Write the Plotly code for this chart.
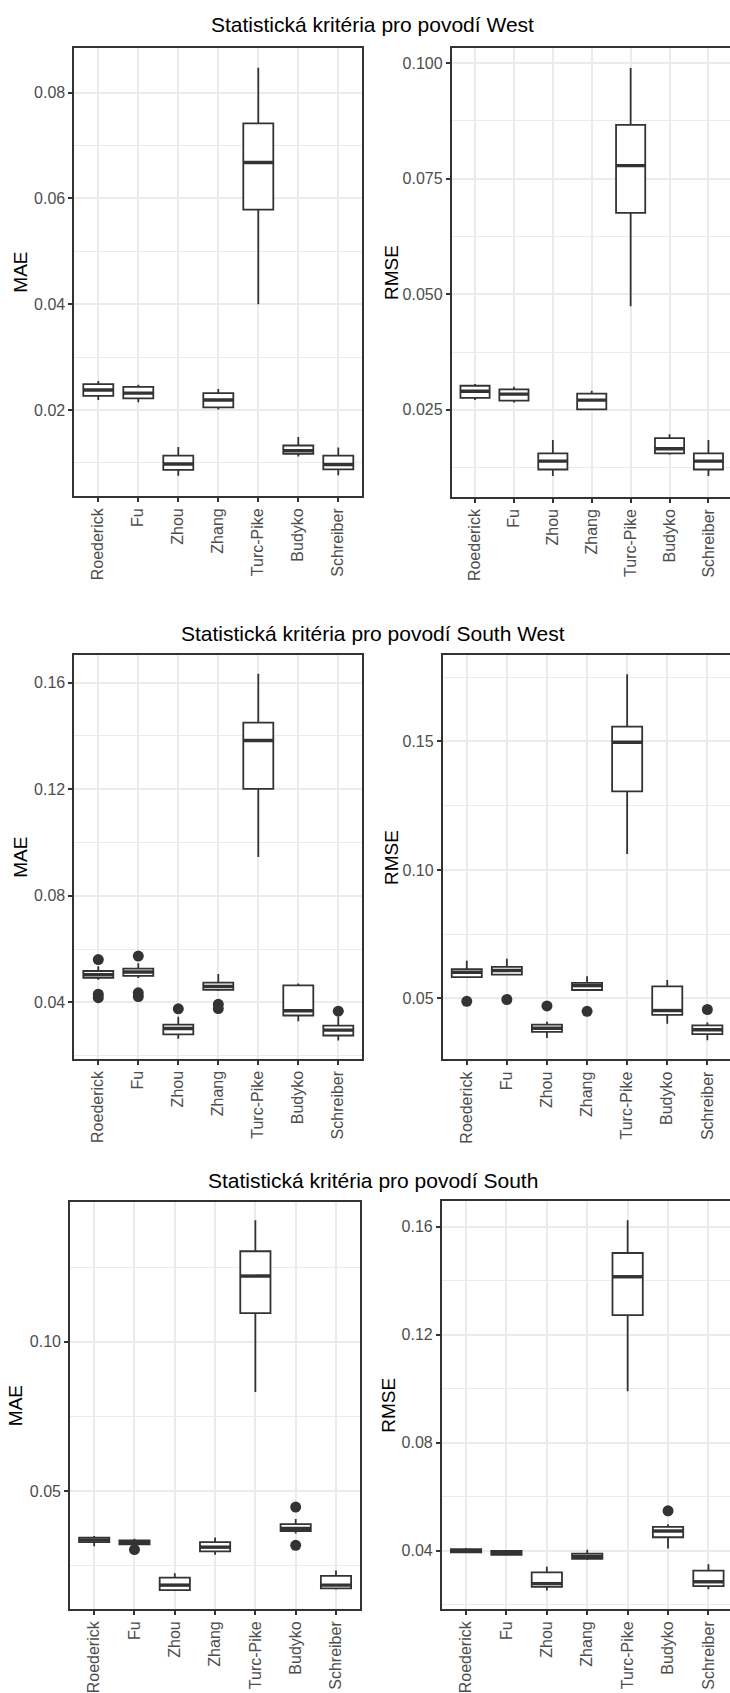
import plotly.graph_objects as go

W, H = 730, 1693

models = ["Roederick", "Fu", "Zhou", "Zhang", "Turc-Pike", "Budyko", "Schreiber"]
positions = [1, 2, 3, 4, 5, 6, 7]

basin_titles = [
    "Statistická kritéria pro povodí West",
    "Statistická kritéria pro povodí South West",
    "Statistická kritéria pro povodí South",
]

# ---- West ----
west_mae_low = [0.0219, 0.0215, 0.0076, 0.0201, 0.0400, 0.0112, 0.0077]
west_mae_q1 = [0.0227, 0.0222, 0.0087, 0.0205, 0.0579, 0.0117, 0.0088]
west_mae_med = [0.0238, 0.0232, 0.0098, 0.0219, 0.0668, 0.0123, 0.0097]
west_mae_q3 = [0.0249, 0.0244, 0.0114, 0.0232, 0.0742, 0.0133, 0.0114]
west_mae_high = [0.0255, 0.0248, 0.0130, 0.0240, 0.0847, 0.0149, 0.0129]
west_mae_out_model = []
west_mae_out_val = []

west_rmse_low = [0.0271, 0.0266, 0.0107, 0.0251, 0.0474, 0.0153, 0.0107]
west_rmse_q1 = [0.0276, 0.0270, 0.0121, 0.0251, 0.0676, 0.0156, 0.0121]
west_rmse_med = [0.0290, 0.0284, 0.0139, 0.0271, 0.0778, 0.0166, 0.0139]
west_rmse_q3 = [0.0302, 0.0294, 0.0156, 0.0285, 0.0866, 0.0189, 0.0156]
west_rmse_high = [0.0306, 0.0300, 0.0185, 0.0291, 0.0989, 0.0197, 0.0185]
west_rmse_out_model = []
west_rmse_out_val = []

# ---- South West ----
sw_mae_low = [0.0485, 0.0492, 0.0264, 0.0443, 0.0946, 0.0329, 0.0257]
sw_mae_q1 = [0.0492, 0.0500, 0.0280, 0.0447, 0.1201, 0.0351, 0.0276]
sw_mae_med = [0.0504, 0.0514, 0.0302, 0.0460, 0.1383, 0.0369, 0.0296]
sw_mae_q3 = [0.0518, 0.0527, 0.0317, 0.0474, 0.1450, 0.0464, 0.0313]
sw_mae_high = [0.0536, 0.0547, 0.0346, 0.0507, 0.1633, 0.0471, 0.0346]
sw_mae_out_model = ["Roederick", "Roederick", "Roederick", "Fu", "Fu", "Fu",
                    "Zhou", "Zhang", "Zhang", "Schreiber"]
sw_mae_out_val = [0.0561, 0.0431, 0.0418, 0.0574, 0.0436, 0.0422,
                  0.0376, 0.0393, 0.0377, 0.0367]

sw_rmse_low = [0.0580, 0.0590, 0.0346, 0.0530, 0.1062, 0.0402, 0.0337]
sw_rmse_q1 = [0.0583, 0.0593, 0.0370, 0.0533, 0.1306, 0.0436, 0.0361]
sw_rmse_med = [0.0602, 0.0609, 0.0384, 0.0550, 0.1497, 0.0453, 0.0378]
sw_rmse_q3 = [0.0614, 0.0623, 0.0398, 0.0561, 0.1558, 0.0547, 0.0395]
sw_rmse_high = [0.0647, 0.0655, 0.0409, 0.0586, 0.1762, 0.0572, 0.0406]
sw_rmse_out_model = ["Roederick", "Fu", "Zhou", "Zhang", "Schreiber"]
sw_rmse_out_val = [0.0489, 0.0496, 0.0471, 0.0450, 0.0457]

# ---- South ----
s_mae_low = [0.0316, 0.0322, 0.0169, 0.0288, 0.0832, 0.0359, 0.0171]
s_mae_q1 = [0.0330, 0.0322, 0.0169, 0.0299, 0.1096, 0.0367, 0.0175]
s_mae_med = [0.0337, 0.0328, 0.0186, 0.0313, 0.1220, 0.0376, 0.0186]
s_mae_q3 = [0.0345, 0.0336, 0.0211, 0.0330, 0.1303, 0.0390, 0.0217]
s_mae_high = [0.0350, 0.0341, 0.0226, 0.0345, 0.1407, 0.0407, 0.0235]
s_mae_out_model = ["Fu", "Budyko", "Budyko"]
s_mae_out_val = [0.0305, 0.0447, 0.0319]

s_rmse_low = [0.0391, 0.0382, 0.0253, 0.0366, 0.0991, 0.0408, 0.0257]
s_rmse_q1 = [0.0394, 0.0385, 0.0266, 0.0370, 0.1273, 0.0450, 0.0269]
s_rmse_med = [0.0400, 0.0391, 0.0278, 0.0379, 0.1415, 0.0473, 0.0285]
s_rmse_q3 = [0.0406, 0.0399, 0.0320, 0.0389, 0.1503, 0.0488, 0.0326]
s_rmse_high = [0.0410, 0.0401, 0.0341, 0.0404, 0.1624, 0.0498, 0.0350]
s_rmse_out_model = ["Budyko"]
s_rmse_out_val = [0.0548]

FONT = "Liberation Sans, Arial, sans-serif"
DARK = "#333333"
GRID = "#EBEBEB"
BOX_W = 0.75


def px_x(v):
    return v / W


def px_y(v):
    return 1 - v / H


# panel geometry in pixels: left edge, category spacing, top, bottom, y-label x centre
panels = [
    dict(stats=(west_mae_low, west_mae_q1, west_mae_med, west_mae_q3, west_mae_high),
         out=(west_mae_out_model, west_mae_out_val), label="MAE",
         x0=74.3, sp=40.0, top=47.8, bot=497.5, lab_x=20.8,
         yr=[0.00375, 0.0885], dtick=0.02, fmt=".2f", right=False),
    dict(stats=(west_rmse_low, west_rmse_q1, west_rmse_med, west_rmse_q3, west_rmse_high),
         out=(west_rmse_out_model, west_rmse_out_val), label="RMSE",
         x0=451.7, sp=38.9, top=47.8, bot=498.3, lab_x=390.8,
         yr=[0.00619, 0.1033], dtick=0.025, fmt=".3f", right=True),
    dict(stats=(sw_mae_low, sw_mae_q1, sw_mae_med, sw_mae_q3, sw_mae_high),
         out=(sw_mae_out_model, sw_mae_out_val), label="MAE",
         x0=74.3, sp=40.0, top=657.1, bot=1061.8, lab_x=20.8,
         yr=[0.0189, 0.1703], dtick=0.04, fmt=".2f", right=False),
    dict(stats=(sw_rmse_low, sw_rmse_q1, sw_rmse_med, sw_rmse_q3, sw_rmse_high),
         out=(sw_rmse_out_model, sw_rmse_out_val), label="RMSE",
         x0=442.7, sp=40.1, top=657.1, bot=1062.5, lab_x=390.8,
         yr=[0.0263, 0.1836], dtick=0.05, fmt=".2f", right=True),
    dict(stats=(s_mae_low, s_mae_q1, s_mae_med, s_mae_q3, s_mae_high),
         out=(s_mae_out_model, s_mae_out_val), label="MAE",
         x0=70.0, sp=40.3, top=1205.2, bot=1613.8, lab_x=15.8,
         yr=[0.0106, 0.1469], dtick=0.05, fmt=".2f", right=False),
    dict(stats=(s_rmse_low, s_rmse_q1, s_rmse_med, s_rmse_q3, s_rmse_high),
         out=(s_rmse_out_model, s_rmse_out_val), label="RMSE",
         x0=441.8, sp=40.4, top=1204.2, bot=1613.8, lab_x=388.9,
         yr=[0.0184, 0.1697], dtick=0.04, fmt=".2f", right=True),
]

title_y = [25.0, 635.5, 1184.0]
title_x = 373.0

fig = go.Figure()
annotations = []

for i, p in enumerate(panels, start=1):
    xa = "x" if i == 1 else f"x{i}"
    ya = "y" if i == 1 else f"y{i}"
    low, q1, med, q3, high = p["stats"]

    fig.add_trace(go.Box(
        x=positions, q1=q1, median=med, q3=q3,
        lowerfence=low, upperfence=high,
        width=BOX_W, whiskerwidth=0, boxpoints=False,
        fillcolor="white", line=dict(color=DARK, width=1.8),
        xaxis=xa, yaxis=ya, showlegend=False, hoverinfo="skip",
    ))

    # thicker median bars
    mx, my = [], []
    for pos, m in zip(positions, med):
        mx += [pos - BOX_W / 2, pos + BOX_W / 2, None]
        my += [m, m, None]
    fig.add_trace(go.Scatter(
        x=mx, y=my, mode="lines", line=dict(color=DARK, width=3.4),
        xaxis=xa, yaxis=ya, showlegend=False, hoverinfo="skip",
    ))

    out_models, out_vals = p["out"]
    if out_models:
        fig.add_trace(go.Scatter(
            x=[positions[models.index(m)] for m in out_models], y=out_vals,
            mode="markers", marker=dict(color=DARK, size=11),
            xaxis=xa, yaxis=ya, showlegend=False, hoverinfo="skip",
        ))

    x1 = min(p["x0"] + 7.2 * p["sp"], W)
    x_hi = 0.4 + (x1 - p["x0"]) / p["sp"]

    axis_common = dict(
        showline=True, linecolor=DARK, linewidth=1.7,
        ticks="outside", ticklen=4, tickwidth=1.5, tickcolor=DARK,
        tickfont=dict(family=FONT, size=16, color="#4D4D4D"),
        showgrid=True, gridcolor=GRID, gridwidth=2, zeroline=False,
        fixedrange=True,
    )
    fig.layout[("xaxis" if i == 1 else f"xaxis{i}")] = dict(
        axis_common,
        domain=[px_x(p["x0"]), px_x(x1)], anchor=ya,
        range=[0.4, x_hi], tickmode="array", tickvals=positions, ticktext=models,
        tickangle=-90, mirror=True,
    )
    fig.layout[("yaxis" if i == 1 else f"yaxis{i}")] = dict(
        axis_common,
        domain=[px_y(p["bot"]), px_y(p["top"])], anchor=xa,
        range=p["yr"], tickmode="linear", tick0=0, dtick=p["dtick"],
        tickformat=p["fmt"], mirror=not p["right"],
        minor=dict(tick0=0, dtick=p["dtick"] / 2, showgrid=True,
                   gridcolor=GRID, gridwidth=1.3, ticks=""),
    )

    annotations.append(dict(
        text=p["label"], x=px_x(p["lab_x"]), y=px_y((p["top"] + p["bot"]) / 2),
        xref="paper", yref="paper", xanchor="center", yanchor="middle",
        textangle=-90, showarrow=False,
        font=dict(family=FONT, size=19, color="black"),
    ))

for t, ty in zip(basin_titles, title_y):
    annotations.append(dict(
        text=t, x=px_x(title_x), y=px_y(ty), xref="paper", yref="paper",
        xanchor="center", yanchor="middle", showarrow=False,
        font=dict(family=FONT, size=21, color="black"),
    ))

fig.update_layout(
    width=W, height=H, autosize=False,
    margin=dict(l=0, r=0, t=0, b=0),
    paper_bgcolor="white", plot_bgcolor="white",
    showlegend=False, annotations=annotations,
    font=dict(family=FONT),
)

fig.write_html("out.html")
